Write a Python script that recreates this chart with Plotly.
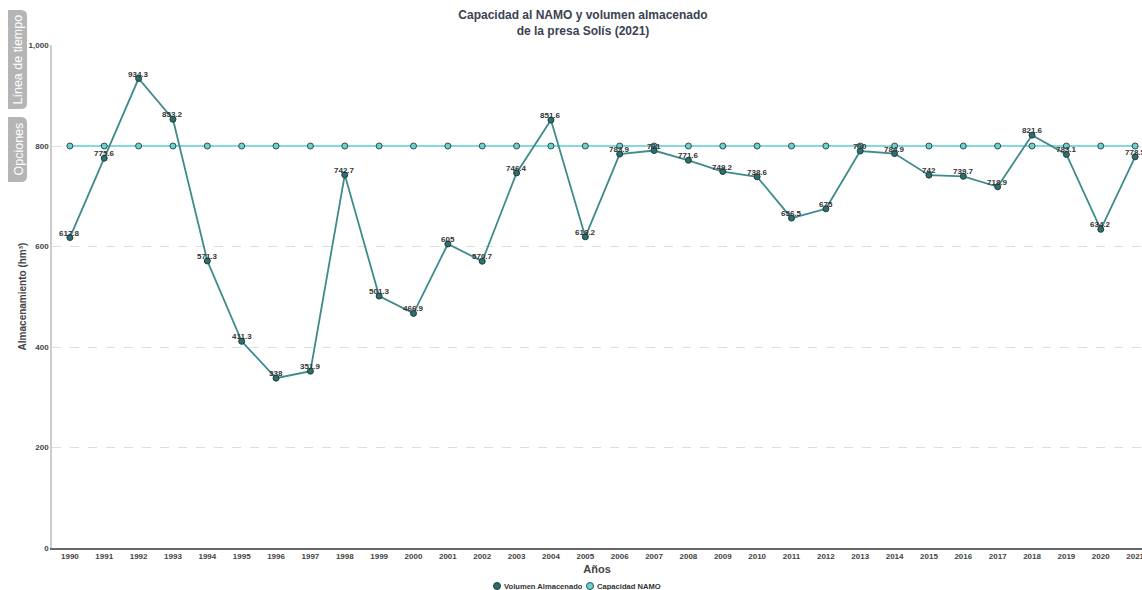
import plotly.graph_objects as go

years = [str(y) for y in range(1990, 2022)]
volumen = [617.8, 775.6, 934.3, 853.2, 571.3, 411.3, 338, 351.9, 742.7, 501.3,
           466.9, 605, 570.7, 746.4, 851.6, 619.2, 783.9, 791.0, 771.6, 749.2,
           738.6, 656.5, 675, 790.0, 784.9, 742, 739.7, 718.9, 821.6, 783.1,
           634.2, 778.5]
namo = [800] * len(years)
y_ticks = [0, 200, 400, 600, 800, 1000]
legend_names = ["Volumen Almacenado", "Capacidad NAMO"]

FONT = "Liberation Sans, Arial, sans-serif"
C_VOL = "#3f8b8b"
C_VOL_M = "#2d6e6e"
C_NAMO = "#86d9da"
C_NAMO_M = "#6ccfd0"

fig = go.Figure()
fig.add_trace(go.Scatter(
    x=years, y=namo, mode="lines+markers", name="Capacidad NAMO",
    line=dict(color=C_NAMO, width=2.2),
    marker=dict(size=6, color=C_NAMO_M, line=dict(color="#2f4f4f", width=1)),
    showlegend=False, cliponaxis=False))
fig.add_trace(go.Scatter(
    x=years, y=volumen, mode="lines+markers", name="Volumen Almacenado",
    line=dict(color=C_VOL, width=1.8),
    marker=dict(size=6, color=C_VOL_M, line=dict(color="#1f3f3f", width=1)),
    showlegend=False, cliponaxis=False))

# data labels (category index positions)
for i, v in enumerate(volumen):
    fig.add_annotation(x=i, y=v, xref="x", yref="y", text=f"<b>{v:g}</b>",
                       showarrow=False, yanchor="bottom", yshift=-2,
                       font=dict(size=8, color="#333333", family=FONT))

L, R, T, B = 52, 0, 45, 42
W, H = 1142, 590
pw = W - L - R
ph = H - T - B
title_x = (583 - L) / pw

def px_x(x):
    return (x - L) / pw

def px_y(y):
    return (H - B - y) / ph

fig.update_layout(
    width=W, height=H,
    margin=dict(l=L, r=R, t=T, b=B, autoexpand=False),
    paper_bgcolor="white", plot_bgcolor="white",
    font=dict(family=FONT, color="#444444"),
    separators=".,",
    showlegend=False,
    title=dict(text="<b>Capacidad al NAMO y volumen almacenado<br>de la presa Solís (2021)</b>",
               x=title_x, xref="paper", xanchor="center",
               yref="container", y=(H - 19) / H, yanchor="middle",
               font=dict(size=12, color="#3b4252", family=FONT)),
    xaxis=dict(type="category", range=[-0.52, 31.2], showgrid=False,
               showline=True, linecolor="#666666", linewidth=1.5,
               ticks="",
               tickfont=dict(size=8, color="#444444", family=FONT, weight="bold"),
               title=dict(text="<b>Años</b>", font=dict(size=11, color="#444444"), standoff=5),
               fixedrange=True),
    yaxis=dict(range=[0, 1001], tickvals=y_ticks, tickformat=",d",
               showgrid=True, gridcolor="#dddddd", griddash="dash", gridwidth=1,
               showline=True, linecolor="#cccccc", linewidth=1.5,
               zeroline=False, ticks="",
               tickfont=dict(size=8, color="#444444", family=FONT, weight="bold"),
               title=dict(text="<b>Almacenamiento (hm³)</b>", font=dict(size=10, color="#444444"),
                          standoff=0),
               fixedrange=True),
)

# legend (markers + labels)
legend_items = [(497, 503, C_VOL_M, "#1f3f3f"), (590, 596, C_NAMO_M, "#2f4f4f")]
for name, (cx, tx, fc, lc) in zip(legend_names, legend_items):
    fig.add_shape(type="circle", xref="paper", yref="paper",
                  xsizemode="pixel", ysizemode="pixel",
                  xanchor=px_x(cx), yanchor=px_y(586),
                  x0=-3.5, x1=3.5, y0=-3.5, y1=3.5,
                  fillcolor=fc, line=dict(color=lc, width=1))
    fig.add_annotation(x=px_x(tx), y=px_y(586), xref="paper", yref="paper",
                       text=f"<b>{name}</b>", showarrow=False,
                       xanchor="left", yanchor="middle", borderpad=0,
                       font=dict(size=7.6, color="#333333", family=FONT))

# side tabs (page UI)
rx, ry = 6 / pw, 6 / ph

def tab(x0, x1, y0, y1):
    return (f"M {x0},{y0} L {x1-rx},{y0} Q {x1},{y0} {x1},{y0-ry} "
            f"L {x1},{y1+ry} Q {x1},{y1} {x1-rx},{y1} L {x0},{y1} Z")

for (y0, y1, label) in [(10, 109, "Línea de tiempo"), (117, 182, "Opciones")]:
    fig.add_shape(type="path", xref="paper", yref="paper",
                  path=tab(px_x(8), px_x(27), px_y(y0), px_y(y1)),
                  fillcolor="#b5b5b5", line=dict(width=0), layer="below")
    fig.add_annotation(x=px_x(18), y=px_y((y0 + y1) / 2), xref="paper", yref="paper",
                       text=label, textangle=-90, showarrow=False,
                       xanchor="center", yanchor="middle",
                       font=dict(size=12.5, color="#ffffff", family=FONT))

fig.write_html("out.html", config={"displayModeBar": False})
